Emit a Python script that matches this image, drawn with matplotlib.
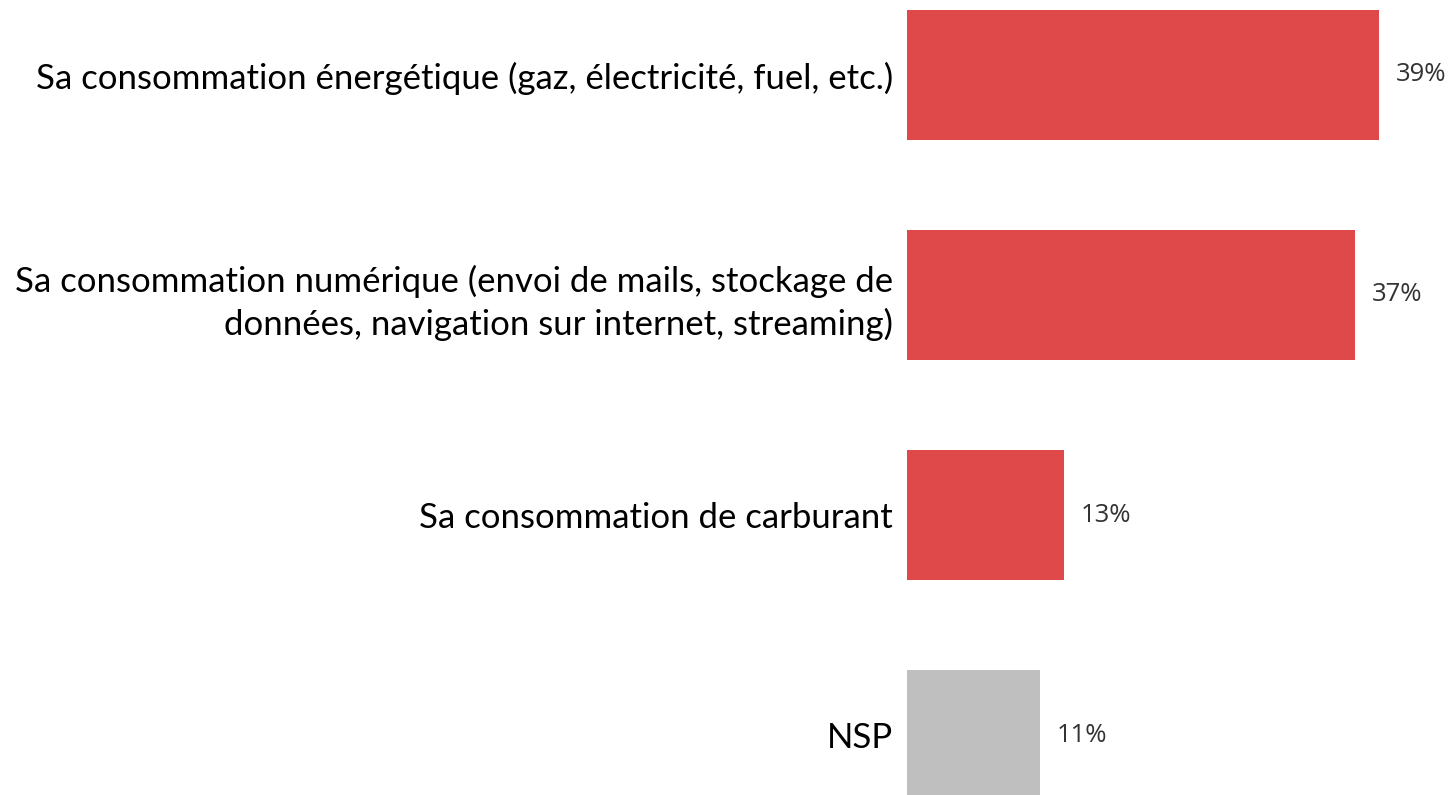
import matplotlib.pyplot as plt

categories = [
    "Sa consommation énergétique (gaz, électricité, fuel, etc.)",
    "Sa consommation numérique (envoi de mails, stockage de\ndonnées, navigation sur internet, streaming)",
    "Sa consommation de carburant",
    "NSP",
]
values = [39, 37, 13, 11]
colors = ["#E0494A", "#E0494A", "#E0494A", "#BFBFBF"]

W, H = 1456, 795
fig = plt.figure(figsize=(W / 100, H / 100), dpi=100)
px = 12.1  # pixels per percent
left = 907 / W
xmax = 45
ax = fig.add_axes([left, 0, xmax * px / W, 1])

ypos = list(range(len(values)))
ax.barh(ypos, values, height=130 / 220, color=colors)
ax.set_xlim(0, xmax)
ax.set_ylim(3 + 60 / 220, -75 / 220)

ax.set_yticks(ypos)
ax.set_yticklabels(categories, fontsize=25, family="Lato", color="black",
                   linespacing=1.38, ha="right")
ax.tick_params(axis="y", length=0, pad=10)
ax.set_xticks([])
for s in ax.spines.values():
    s.set_visible(False)

for y, v in zip(ypos, values):
    ax.annotate(f"{v}%", (v, y), xytext=(12, 0), textcoords="offset points",
                va="center", ha="left", fontsize=18.5, family="Open Sans",
                color="#333333")

fig.savefig("out.png", dpi=100)
